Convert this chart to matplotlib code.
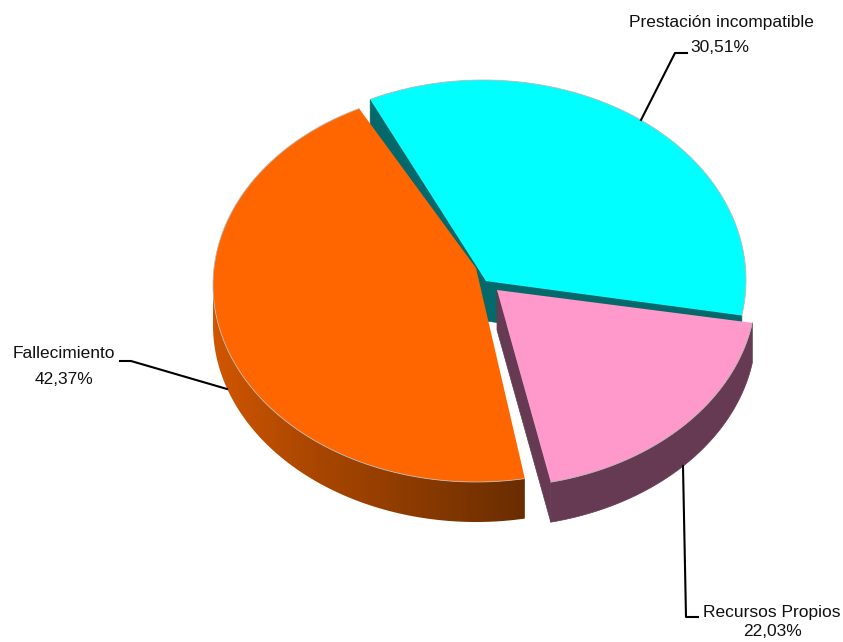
import numpy as np
import matplotlib
matplotlib.use("Agg")
import matplotlib.pyplot as plt
from matplotlib.colors import LinearSegmentedColormap
from matplotlib.patches import Polygon

# Labelled shares, and the sweep each slice actually takes up in the drawing
labels = ["Prestación incompatible", "Fallecimiento", "Recursos Propios"]
percents = ["30,51%", "42,37%", "22,03%"]
start_angles = [115.4, 116.4, -9.6]
sweeps = [-125.6, 164.3, -67.7]

top_colors = ["#00FFFF", "#FF6600", "#FF99CC"]
side_colors = ["#05686A", None, "#663A52"]
orange_side = LinearSegmentedColormap.from_list(
    "orange_side", ["#D05600", "#A84600", "#8A3A00", "#6A2D00"])

# layout of each slice, in pixels: ellipse centre and wedge tip
centers = [(483, 280), (476, 285), (493, 290)]
tips = [(486, 281), (476, 268), (497, 290)]
RX = 263
RY = [200, 197, 197]
DEPTH = 40
EDGE = "#B8B8B8"

# text spots: name line, percent line
name_xy = [(721, 22), (64, 354), (772, 612)]
pct_xy = [(720, 47), (64, 380), (772, 632)]

plt.rcParams["font.family"] = ["Liberation Sans"]

fig = plt.figure(figsize=(8.43, 6.42), dpi=100)
ax = fig.add_axes([0, 0, 1, 1])


def arc_points(i, n=200):
    t = np.radians(np.linspace(start_angles[i], start_angles[i] + sweeps[i], n))
    return centers[i][0] + RX * np.cos(t), centers[i][1] - RY[i] * np.sin(t), t


def draw_cut(i, x_end, y_end, color, z):
    xs = [tips[i][0], x_end, x_end, tips[i][0]]
    ys = [tips[i][1], y_end, y_end + DEPTH, tips[i][1] + DEPTH]
    ax.fill(xs, ys, color=color, lw=0.5, zorder=z)


def outer_outline(i):
    x, y, t = arc_points(i)
    front = np.sin(t) <= 0
    xs, ys = x[front], y[front]
    return np.r_[xs, xs[::-1]], np.r_[ys, ys[::-1] + DEPTH]


def draw_top(i, z):
    x, y, _ = arc_points(i)
    ax.fill(np.r_[tips[i][0], x], np.r_[tips[i][1], y], color=top_colors[i], lw=0, zorder=z)
    ax.plot(x, y, color=EDGE, lw=0.6, zorder=z)


# cyan first, orange sits on top of it, then the pulled out pink slice
x0, y0, _ = arc_points(0)
draw_cut(0, x0[0], y0[0], side_colors[0], 1)
draw_cut(0, x0[-1], y0[-1], side_colors[0], 1)
draw_top(0, 2)

# orange wall is shaded from left to right
ox, oy = outer_outline(1)
wall = Polygon(np.c_[ox, oy], closed=True, facecolor="none", edgecolor="none", transform=ax.transData)
ax.add_patch(wall)
img = ax.imshow(np.linspace(0, 1, 256)[None, :], cmap=orange_side, aspect="auto",
                extent=(ox.min(), ox.max(), oy.max(), oy.min()), zorder=3)
img.set_clip_path(wall)
draw_top(1, 4)

x2, y2, _ = arc_points(2)
draw_cut(2, x2[-1], y2[-1], side_colors[2], 5)
px, py = outer_outline(2)
ax.fill(px, py, color=side_colors[2], lw=0.5, zorder=5)
draw_top(2, 6)

# Leader lines
ax.plot([641, 675, 687], [120, 53, 53], color="black", lw=1.5, zorder=7)
ax.plot([120, 131, 227], [361, 361, 389], color="black", lw=1.5, zorder=7)
ax.plot([683, 686, 698], [466, 617, 617], color="black", lw=1.5, zorder=7)

for i in range(len(labels)):
    ax.text(*name_xy[i], labels[i], ha="center", va="center", fontsize=12.5, color="#111111")
    ax.text(*pct_xy[i], percents[i], ha="center", va="center", fontsize=12.5, color="#111111")

ax.set_xlim(0, 843)
ax.set_ylim(642, 0)
ax.axis("off")

fig.savefig("out.png", dpi=100)
